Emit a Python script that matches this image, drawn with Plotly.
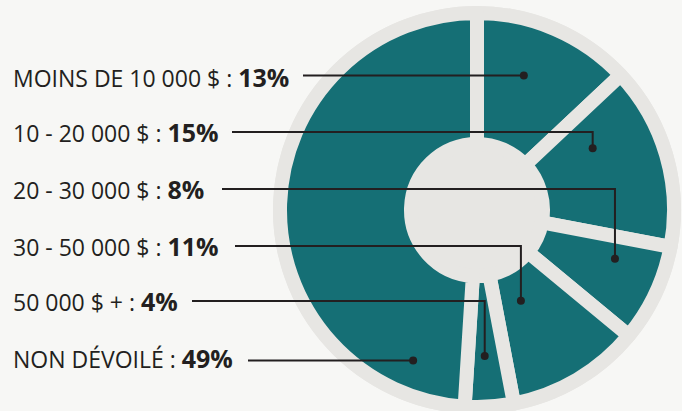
import math
import plotly.graph_objects as go

# ---------------- data ----------------
categories = ["MOINS DE 10 000 $", "10 - 20 000 $", "20 - 30 000 $",
              "30 - 50 000 $", "50 000 $ +", "NON DÉVOILÉ"]
values = [13, 15, 8, 11, 4, 49]

# ---------------- layout / style (pixels) ----------------
W, H = 682, 411
CX, CY = 477, 210          # pie centre
R_TEAL = 190               # visible radius of the teal slices
R_RING = 204               # outer light-grey ring
GAP = 14                   # width of the grey separators
HOLE_R = 73                # visible radius of the grey centre
TEAL = "#156F75"
RING = "#E7E6E3"
BG = "#F7F7F5"
INK = "#231F20"

label_x = 11
row_y = [77, 132, 189, 246, 301, 358]
line_x0 = [303, 232, 222, 235, 192, 248]
dot_t = [0.41, 0.28, 0.30, 0.62, 0.54, 0.11]   # position of dot inside its slice (angular fraction)
dot_r = [0.75, 0.69, 0.77, 0.53, 0.77, 0.86]   # radial position of dot (fraction of teal radius)

# ---------------- figure ----------------
r_pie = R_TEAL + GAP / 2
hole = (HOLE_R - GAP / 2) / r_pie
dom_x = [(CX - r_pie) / W, (CX + r_pie) / W]
dom_y = [(H - (CY + r_pie)) / H, (H - (CY - r_pie)) / H]

fig = go.Figure()
fig.add_trace(go.Pie(
    labels=categories, values=values, sort=False, direction="clockwise",
    rotation=0, hole=hole, textinfo="none", hoverinfo="label+percent",
    marker=dict(colors=[TEAL] * len(values), line=dict(color=RING, width=GAP)),
    domain=dict(x=dom_x, y=dom_y), showlegend=False,
))

shapes = [dict(type="circle", xref="x", yref="y", layer="below",
               x0=CX - R_RING, x1=CX + R_RING, y0=CY - R_RING, y1=CY + R_RING,
               fillcolor=RING, line=dict(width=0))]
annotations = []
total = sum(values)
cum = 0
for i, (cat, v) in enumerate(zip(categories, values)):
    a0 = cum / total * 360
    a1 = (cum + v) / total * 360
    cum += v
    ang = math.radians(a0 + dot_t[i] * (a1 - a0))
    dx = CX + dot_r[i] * R_TEAL * math.sin(ang)
    dy = CY - dot_r[i] * R_TEAL * math.cos(ang)
    ry = row_y[i]
    if abs(dy - ry) < 6:
        ry = dy
        path = f"M {line_x0[i]},{ry} L {dx},{dy}"
    else:
        path = f"M {line_x0[i]},{ry} L {dx},{ry} L {dx},{dy}"
    shapes.append(dict(type="path", xref="x", yref="y", path=path,
                       line=dict(color=INK, width=2)))
    shapes.append(dict(type="circle", xref="x", yref="y",
                       x0=dx - 4, x1=dx + 4, y0=dy - 4, y1=dy + 4,
                       fillcolor=INK, line=dict(width=0)))
    annotations.append(dict(
        x=label_x, y=row_y[i], xref="x", yref="y", xanchor="left", yanchor="middle",
        text=f"{cat} : <span style='font-size:25px'><b>{v}%</b></span>", showarrow=False,
        font=dict(family="Open Sans", size=23, color=INK),
    ))

fig.update_layout(
    width=W, height=H, margin=dict(l=0, r=0, t=0, b=0),
    paper_bgcolor=BG, plot_bgcolor="rgba(0,0,0,0)",
    xaxis=dict(range=[0, W], visible=False, fixedrange=True, domain=[0, 1]),
    yaxis=dict(range=[H, 0], visible=False, fixedrange=True, domain=[0, 1]),
    shapes=shapes, annotations=annotations, showlegend=False,
)
fig.write_html("out.html")
